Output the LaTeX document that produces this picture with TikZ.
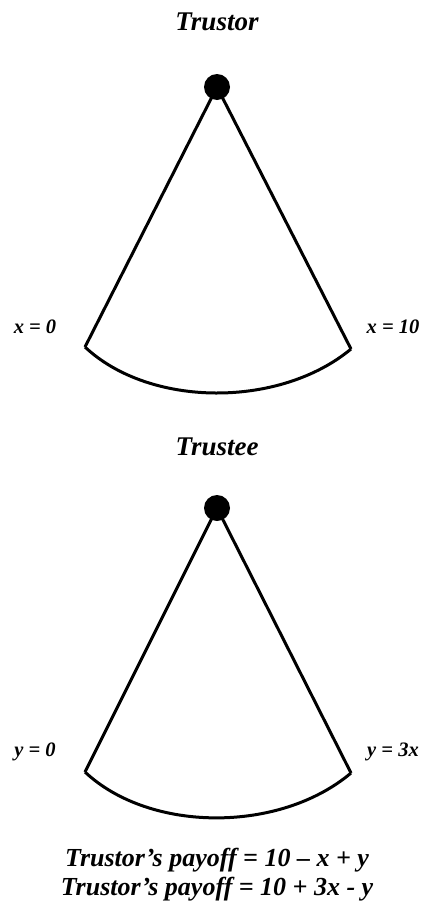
\documentclass[tikz,border=0pt]{standalone}
\usepackage{fontspec}
\setmainfont{Liberation Serif}
\usepackage{xcolor}
\usepackage{tikz}
\usetikzlibrary{calc}
\definecolor{inkc}{HTML}{000000}
\tikzset{
  br/.style={line width=3pt,inkc,line join=round},
  dot/.style={circle,fill=inkc,inner sep=0pt,minimum size=26pt},
  lab/.style={font=\fontsize{20.5}{24}\selectfont\bfseries\itshape,inkc},
  ttl/.style={font=\fontsize{27}{30}\selectfont\bfseries\itshape,inkc}
}
\begin{document}
\begin{tikzpicture}[x=1pt,y=-1pt]
\useasboundingbox (0,0) rectangle (424,913);
% trustor
\node[ttl] (pa) at (217,22) {Trustor};
\node[dot] (ra) at (217,87) {};
\coordinate (la) at (85,347);
\coordinate (ka) at (351,349);
\draw[br] (la) -- (ra.center) -- (ka);
\draw[br] (la) .. controls (150,408) and (280,408) .. (ka);
\node[lab] (xa) at (35,327) {x = 0};
\node[lab] (xb) at (393,327) {x = 10};
% trustee
\node[ttl] (pb) at (217,447) {Trustee};
\node[dot] (rb) at (217,508) {};
\coordinate (lb) at (85,772);
\coordinate (kb) at (351,773);
\draw[br] (lb) -- (rb.center) -- (kb);
\draw[br] (lb) .. controls (150,833) and (280,833) .. (kb);
\node[lab] (ya) at (35,752) {y = 0};
\node[lab] (yb) at (393,752) {y = 3x};
% payoffs
\node[ttl,font=\fontsize{26}{29}\selectfont\bfseries\itshape] (qa) at (217,860) {Trustor’s payoff = 10 – x + y};
\node[ttl,font=\fontsize{26}{29}\selectfont\bfseries\itshape] (qb) at (217,889) {Trustor’s payoff = 10 + 3x - y};
\end{tikzpicture}
\end{document}
